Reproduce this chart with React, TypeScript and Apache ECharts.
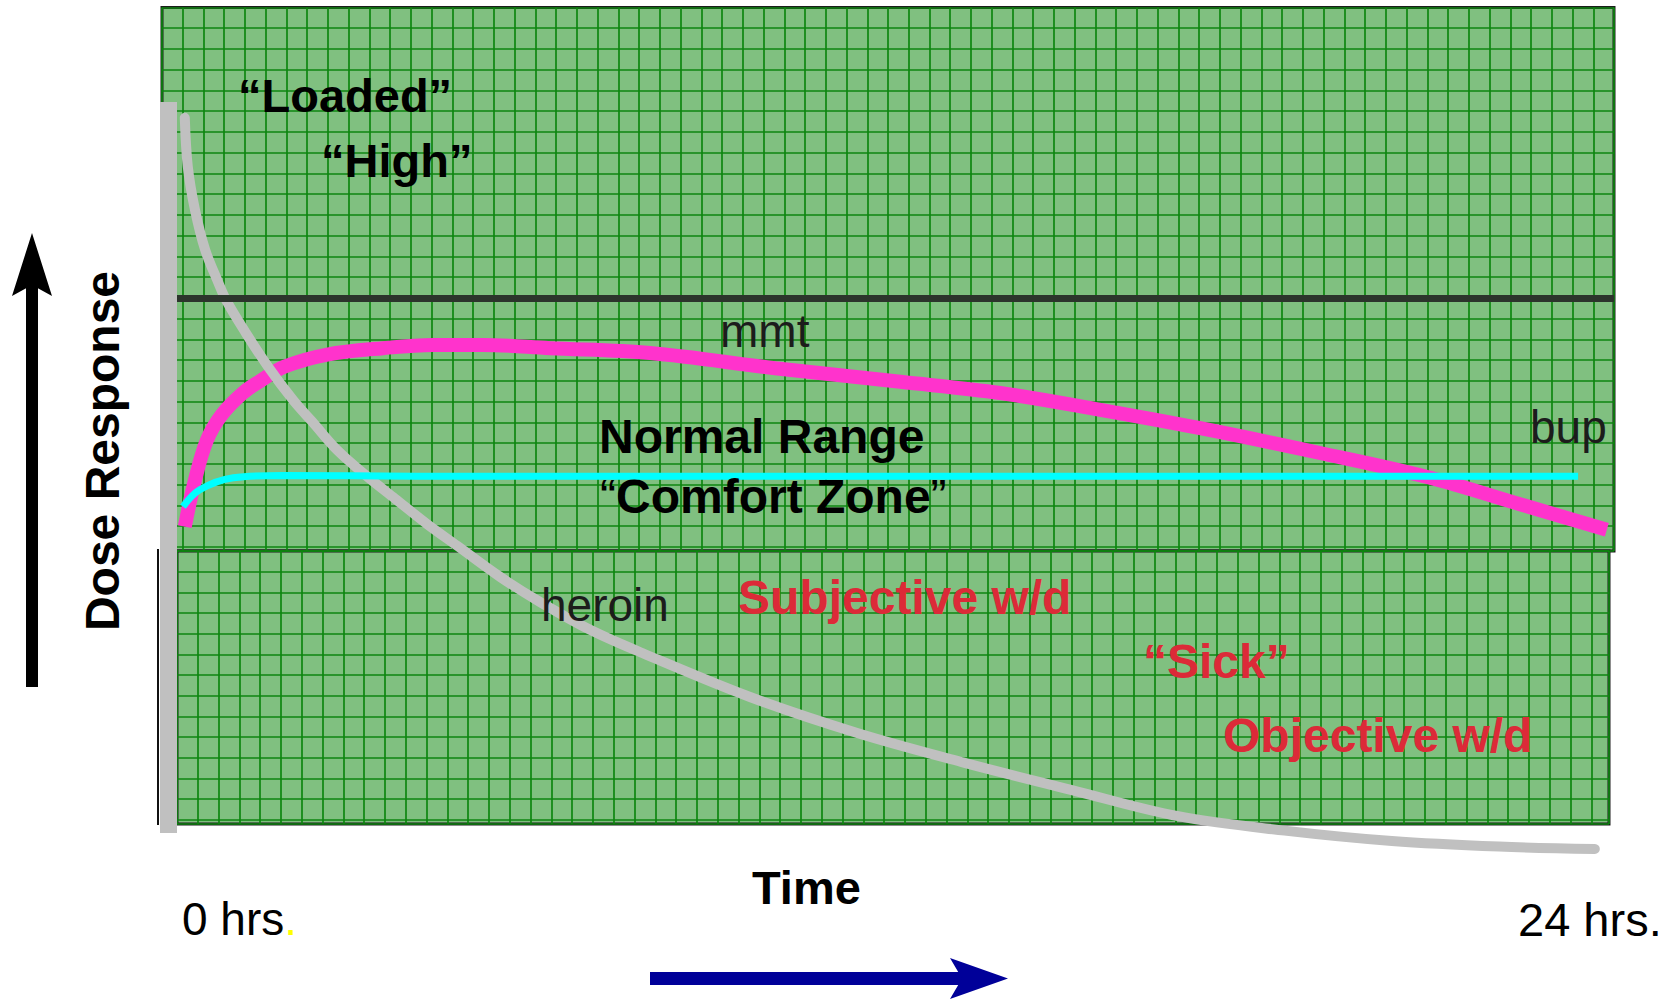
import React, { useEffect, useRef } from "react";
import * as echarts from "echarts";

// Time after dose (hours) and dose response (arbitrary units, 0-100)
const heroinHours = [0.13, 0.18, 0.3, 0.47, 0.69, 0.82, 1.15, 1.52, 1.94, 2.26, 2.67, 3.17, 3.64, 4.18, 4.68, 5.4, 6.08, 6.9, 7.77, 9.57, 11.36, 13.14, 14.93, 16.72, 18.5, 20.29, 22.08, 23.68];
const heroinResponse = [92.4, 86.3, 80.9, 75.9, 71.8, 69.6, 65.5, 61.3, 57.1, 54.4, 50.9, 47.6, 44.8, 41.6, 38.9, 35.0, 31.8, 28.4, 25.5, 20.0, 15.5, 11.8, 8.4, 5.1, 3.3, 2.0, 1.3, 1.0];
const mmtHours = [0.13, 0.3, 0.5, 0.75, 1.1, 1.39, 1.8, 2.51, 3.44, 4.28, 5.11, 6.23, 7.9, 9.99, 12.08, 13.75, 15.42, 17.09, 19.09, 20.88, 22.43, 23.88];
const mmtResponse = [41.3, 47.1, 52.1, 55.3, 58.0, 59.5, 61.3, 62.8, 63.6, 64.0, 64.0, 63.6, 63.0, 61.1, 59.4, 58.0, 55.9, 53.6, 50.5, 47.5, 44.1, 40.9];
const bupHours = [0.1, 0.38, 0.94, 1.77, 4.0, 12.0, 23.4];
const bupResponse = [43.8, 45.9, 47.4, 47.7, 47.6, 47.6, 47.6];
const highThreshold = [69.9];

const seriesNames = ["heroin", "mmt", "bup"];
const timeLabels = ["0 hrs", "24 hrs."];
const axisTitles = ["Dose Response", "Time"];
const zoneLabels = ["\u201CLoaded\u201D", "\u201CHigh\u201D", "Normal Range", "Comfort Zone"];
const withdrawalLabels = ["Subjective w/d", "\u201CSick\u201D", "Objective w/d"];

const zip = (xs: number[], ys: number[]) => xs.map((x, i) => [x, ys[i]]);

const FAM = '"Liberation Sans", Arial, Helvetica, sans-serif';
const font = (size: number, bold: boolean) => `${bold ? "bold" : "normal"} ${size}px ${FAM}`;

function label(text: string, x: number, y: number, size: number, bold: boolean, fill: string, extra: any = {}) {
  return {
    type: "text",
    x,
    y,
    z: 100,
    silent: true,
    ...extra,
    style: {
      text,
      font: font(size, bold),
      fill,
      textAlign: extra.align || "left",
      align: extra.align || "left",
      textVerticalAlign: "middle",
      verticalAlign: "middle",
    },
  };
}

export default function App() {
  const ref = useRef<HTMLDivElement>(null);

  useEffect(() => {
    document.body.style.margin = "0";
    const chart = echarts.init(ref.current!, null, { renderer: "svg" });

    const gridLine = { show: true, lineStyle: { color: "#0e8610", width: 1.7 } };
    const hiddenAxis = {
      axisLine: { show: false },
      axisTick: { show: false },
      axisLabel: { show: false },
    };

    const option: any = {
      animation: false,
      backgroundColor: "#ffffff",
      grid: [
        {
          left: 162, top: 7.5, width: 1452, height: 543.5,
          show: true, backgroundColor: "#80c080", borderColor: "#1c1c1c", borderWidth: 3,
        },
        {
          left: 177, top: 551, width: 1432, height: 273,
          show: true, backgroundColor: "#80c080", borderColor: "#1c1c1c", borderWidth: 3,
        },
        { left: 177, top: 57, width: 1437, height: 800, show: false },
      ],
      xAxis: [
        { type: "value", gridIndex: 0, min: 0, max: 70, interval: 1, splitLine: gridLine, ...hiddenAxis },
        { type: "value", gridIndex: 1, min: 0, max: 68.85, interval: 1, splitLine: gridLine, ...hiddenAxis },
        { type: "value", gridIndex: 2, min: 0, max: 24, show: false, splitLine: { show: false } },
      ],
      yAxis: [
        { type: "value", gridIndex: 0, inverse: true, min: 0, max: 26.2, interval: 1, splitLine: gridLine, ...hiddenAxis },
        { type: "value", gridIndex: 1, inverse: true, min: 0, max: 13.2, interval: 1, splitLine: gridLine, ...hiddenAxis },
        { type: "value", gridIndex: 2, min: 0, max: 100, show: false, splitLine: { show: false } },
      ],
      series: [
        {
          name: seriesNames[1],
          type: "line",
          xAxisIndex: 2, yAxisIndex: 2,
          data: zip(mmtHours, mmtResponse),
          smooth: 0.35,
          symbol: "none",
          lineStyle: { color: "#ff33cc", width: 14, cap: "butt" },
          markLine: {
            silent: true,
            symbol: "none",
            label: { show: false },
            lineStyle: { color: "#2c342c", width: 7, type: "solid" },
            data: highThreshold.map((v) => ({ yAxis: v })),
          },
          z: 3,
        },
        {
          name: seriesNames[0],
          type: "line",
          xAxisIndex: 2, yAxisIndex: 2,
          data: zip(heroinHours, heroinResponse),
          smooth: 0.35,
          symbol: "none",
          lineStyle: { color: "#c0c0c0", width: 10, cap: "round" },
          z: 4,
        },
        {
          name: seriesNames[2],
          type: "line",
          xAxisIndex: 2, yAxisIndex: 2,
          data: zip(bupHours, bupResponse),
          smooth: 0.35,
          symbol: "none",
          lineStyle: { color: "#00ffff", width: 7, cap: "butt" },
          z: 5,
        },
      ],
      graphic: [
        // grey baseline bar and thin black edge on the left
        { type: "rect", z: 50, silent: true, shape: { x: 160, y: 102, width: 17, height: 731 }, style: { fill: "#c0c0c0" } },
        { type: "line", z: 50, silent: true, shape: { x1: 158, y1: 549, x2: 158, y2: 825 }, style: { stroke: "#111111", lineWidth: 2 } },
        // vertical black arrow
        { type: "rect", z: 60, silent: true, shape: { x: 26, y: 284, width: 12, height: 403 }, style: { fill: "#000000" } },
        { type: "polygon", z: 60, silent: true, shape: { points: [[32, 233], [52, 296], [32, 285], [12, 296]] }, style: { fill: "#000000" } },
        // horizontal navy arrow
        { type: "rect", z: 60, silent: true, shape: { x: 650, y: 972, width: 312, height: 13 }, style: { fill: "#000099" } },
        { type: "polygon", z: 60, silent: true, shape: { points: [[1008, 978.5], [950, 958], [962, 978.5], [950, 999]] }, style: { fill: "#000099" } },

        label(zoneLabels[0], 238, 95, 47, true, "#000000"),
        label(zoneLabels[1], 321, 160, 47, true, "#000000"),
        label(seriesNames[1], 720, 331, 46, false, "#1c1c1c"),
        label(zoneLabels[2], 599, 436, 48, true, "#000000"),
        {
          type: "text", x: 600, y: 496, z: 100, silent: true,
          style: {
            text: "{q|\u201C}{t|" + zoneLabels[3] + "}{q|\u201D}",
            textVerticalAlign: "middle", verticalAlign: "middle",
            rich: {
              q: { font: font(48, false), fill: "#000000" },
              t: { font: font(48, true), fill: "#000000" },
            },
          },
        },
        label(seriesNames[2], 1530, 427, 46, false, "#1c1c1c"),
        label(seriesNames[0], 541, 605, 46, false, "#1c1c1c"),
        label(withdrawalLabels[0], 738, 597, 48, true, "#dc2a38"),
        label(withdrawalLabels[1], 1143, 661, 48, true, "#dc2a38"),
        label(withdrawalLabels[2], 1223, 735, 48, true, "#dc2a38"),
        label(axisTitles[1], 752, 887, 47, true, "#000000"),
        {
          type: "text", x: 182, y: 919, z: 100, silent: true,
          style: {
            text: "{a|" + timeLabels[0] + "}{b|.}",
            textVerticalAlign: "middle", verticalAlign: "middle",
            rich: {
              a: { font: font(46, false), fill: "#000000" },
              b: { font: font(46, false), fill: "#ffff00" },
            },
          },
        },
        label(timeLabels[1], 1518, 919, 47, false, "#000000"),
        label(axisTitles[0], 102, 451, 48, true, "#000000", { rotation: Math.PI / 2, align: "center" }),
      ],
    };

    chart.setOption(option);
    return () => chart.dispose();
  }, []);

  return <div ref={ref} style={{ width: 1679, height: 1003 }} />;
}
